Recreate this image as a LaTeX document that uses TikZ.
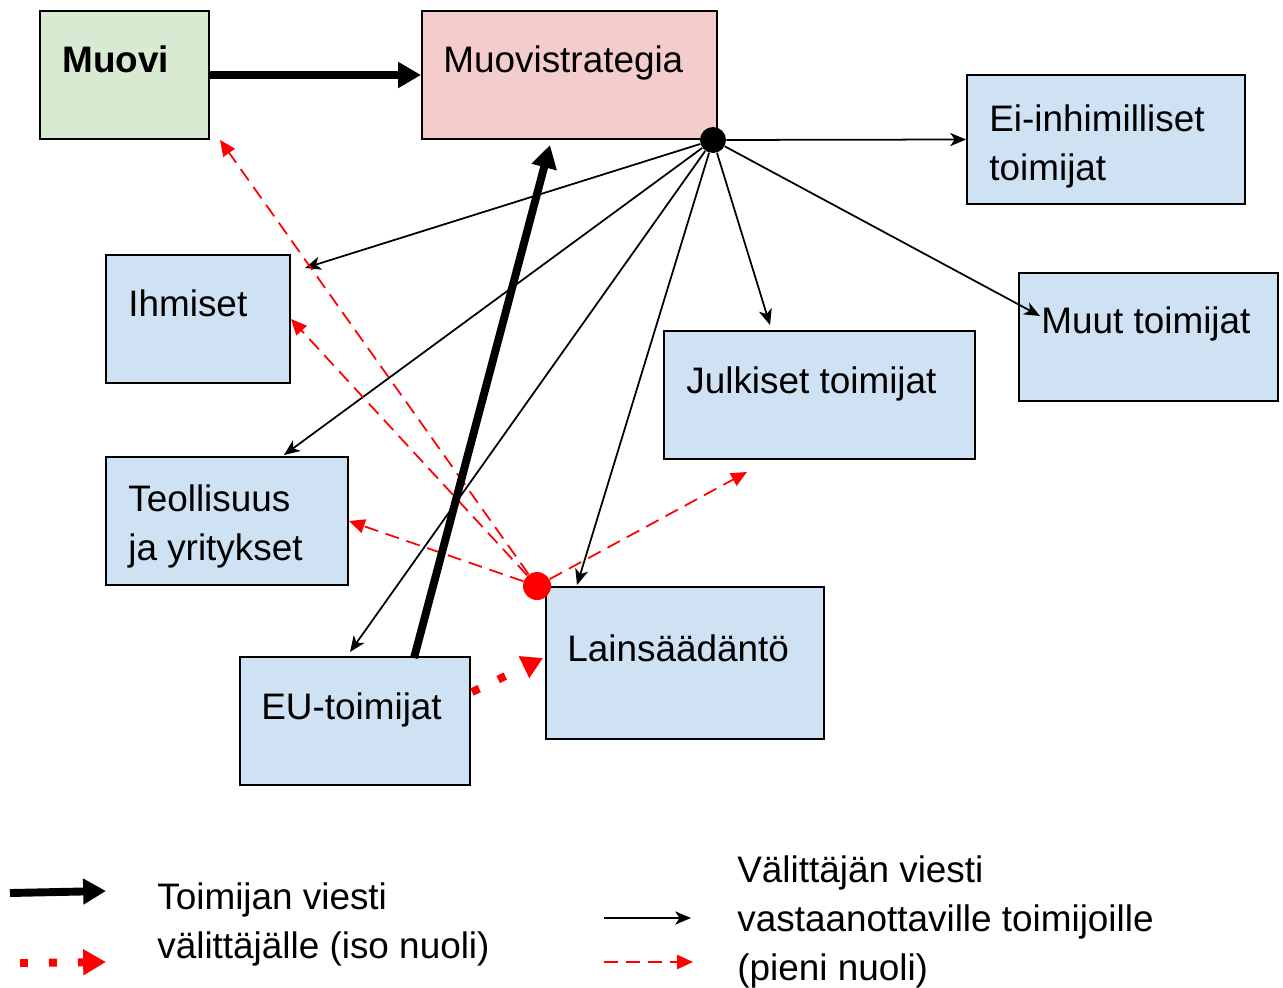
\documentclass[tikz,border=0pt]{standalone}
\usepackage{fontspec}
\setmainfont{Liberation Sans}
\usetikzlibrary{arrows.meta}

\definecolor{boxgreen}{HTML}{D9EAD3}
\definecolor{boxpink}{HTML}{F4CCCC}
\definecolor{boxblue}{HTML}{CFE2F3}

\tikzset{
  box/.style={draw=black, line width=1.1pt, fill=boxblue, inner sep=0pt},
  lbl/.style={anchor=base west, inner sep=0pt, align=left,
    font=\fontsize{21}{27.8}\selectfont},
  dot/.style={circle, inner sep=0pt, minimum size=#1},
  reach/.style={-{Stealth[length=9pt, width=7.5pt, inset=2.5pt]}, line width=1pt},
  relayed/.style={-{Triangle[length=9pt, width=8pt]}, red, line width=1pt,
    dash pattern=on 8pt off 4.5pt},
  sends/.style={-{Triangle[length=13pt, width=14pt]}, line width=4.5pt},
  sendsred/.style={-{Triangle[length=12pt, width=13pt]}, red, line width=4.5pt,
    dash pattern=on 4.5pt off 12pt}
}

\begin{document}
\begin{tikzpicture}[x=0.02cm, y=-0.02cm]
\useasboundingbox (0,0) rectangle (1283,987);

% boxes
\node[box, fill=boxgreen, minimum width=3.38cm, minimum height=2.56cm] (muovi) at (124.5,75) {};
\node[box, fill=boxpink, minimum width=5.9cm, minimum height=2.56cm] (strat) at (569.5,75) {};
\node[box, minimum width=5.56cm, minimum height=2.58cm] (ei) at (1106,139.5) {};
\node[box, minimum width=3.68cm, minimum height=2.56cm] (ihm) at (198,319) {};
\node[box, minimum width=4.84cm, minimum height=2.56cm] (teol) at (227,521) {};
\node[box, minimum width=6.22cm, minimum height=2.56cm] (julk) at (819.5,395) {};
\node[box, minimum width=5.18cm, minimum height=2.56cm] (muut) at (1148.5,337) {};
\node[box, minimum width=5.56cm, minimum height=3.04cm] (lain) at (685,663) {};
\node[box, minimum width=4.6cm, minimum height=2.56cm] (eu) at (355,721) {};

% texts (base = last line)
\node[lbl, font=\fontsize{21}{27.8}\selectfont\bfseries] (muovit) at (62,72) {Muovi};
\node[lbl] (stratt) at (443,72) {Muovistrategia};
\node[lbl] (eit) at (989,180) {Ei-inhimilliset\\toimijat};
\node[lbl] (ihmt) at (128,316) {Ihmiset};
\node[lbl] (teolt) at (128,560) {Teollisuus\\ja yritykset};
\node[lbl] (julkt) at (686,393) {Julkiset toimijat};
\node[lbl] (muutt) at (1041,333) {Muut toimijat};
\node[lbl] (laint) at (567,661) {Lainsäädäntö};
\node[lbl] (eut) at (261,719) {EU-toimijat};

\node[dot=0.52cm, fill=black] (hub) at (713,140) {};
\node[dot=0.56cm, fill=red] (relay) at (537,586) {};

\path
  coordinate (toIhm) at (305,268)
  coordinate (toTeol) at (284,455)
  coordinate (toEu) at (350,652)
  coordinate (toLain) at (577,585)
  coordinate (toJulk) at (770,325)
  coordinate (toMuut) at (1040,316)
  coordinate (rToMuovi) at (220,140)
  coordinate (rToJulk) at (747,472)
  coordinate (euTop) at (414,658)
  coordinate (stratBot) at (550,145)
  coordinate (euSide) at (472,692)
  coordinate (lainSide) at (543,658);

% viesti eteenpain
\draw[reach] (hub) -- (ei.west);
\draw[reach] (hub) -- (toIhm);
\draw[reach] (hub) -- (toTeol);
\draw[reach] (hub) -- (toEu);
\draw[reach] (hub) -- (toLain);
\draw[reach] (hub) -- (toJulk);
\draw[reach] (hub) -- (toMuut);

\draw[relayed] (relay) -- (rToMuovi);
\draw[relayed] (relay) -- (ihm.east);
\draw[relayed] (relay) -- (teol.east);
\draw[relayed] (relay) -- (rToJulk);

\draw[sends] (muovi.east) -- (strat.west);
\draw[sends] (euTop) -- (stratBot);
\draw[sendsred] (euSide) -- (lainSide);

% selite
\path
  coordinate (k1a) at (10,893) coordinate (k1b) at (106,891)
  coordinate (k2a) at (20,963) coordinate (k2b) at (106,962)
  coordinate (k3a) at (604,918) coordinate (k3b) at (691,918)
  coordinate (k4a) at (604,962) coordinate (k4b) at (693,962);
\draw[sends] (k1a) -- (k1b);
\draw[sendsred, -{Triangle[length=13pt, width=14pt]}] (k2a) -- (k2b);
\draw[reach] (k3a) -- (k3b);
\draw[relayed] (k4a) -- (k4b);

\node[lbl] (key1) at (157,958) {Toimijan viesti\\välittäjälle (iso nuoli)};
\node[lbl] (key2) at (737,980) {Välittäjän viesti\\vastaanottaville toimijoille\\(pieni nuoli)};

\end{tikzpicture}
\end{document}
